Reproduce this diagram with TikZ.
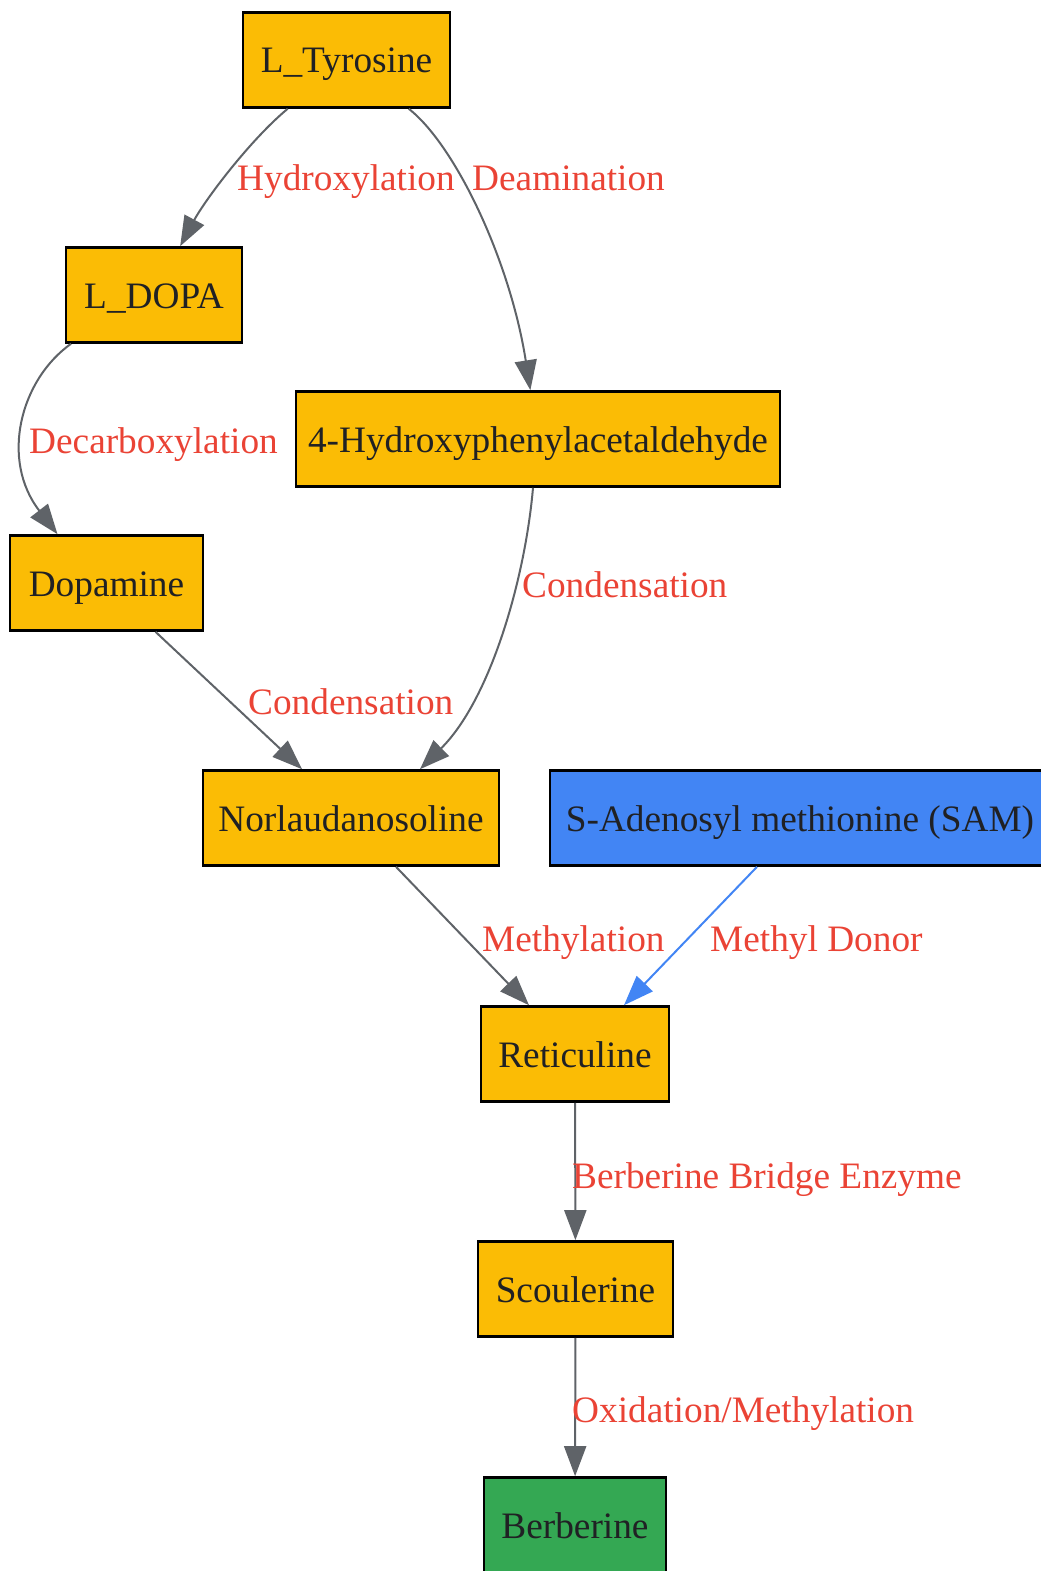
\documentclass[tikz,border=0pt]{standalone}
\usepackage{fontspec}
\setmainfont{Liberation Serif}
\usetikzlibrary{arrows.meta}

\definecolor{inktext}{HTML}{202124}
\definecolor{stepyellow}{HTML}{FBBC05}
\definecolor{donorblue}{HTML}{4285F4}
\definecolor{prodgreen}{HTML}{34A853}
\definecolor{edgegray}{HTML}{5F6368}
\definecolor{labelred}{HTML}{EA4335}

\tikzset{
  compound/.style={draw=black, line width=2.6pt, fill=stepyellow, text=inktext,
    inner xsep=8pt, minimum height=95pt, text height=34pt, text depth=8pt,
    font=\fontsize{37.3pt}{45pt}\selectfont},
  donor/.style={compound, fill=donorblue},
  product/.style={compound, fill=prodgreen},
  rxn/.style={draw=edgegray, line width=2pt, -{Triangle[length=30pt,width=22pt]}},
  rxnlabel/.style={text=labelred, anchor=base west, inner sep=0pt,
    font=\fontsize{37.3pt}{45pt}\selectfont}
}

\begin{document}
\begin{tikzpicture}[x=1pt, y=-1pt]
  \useasboundingbox (0,0) rectangle (1041,1571);

  % compounds
  \node[compound, minimum width=207pt] (tyr)  at (346.5,60) {L\_Tyrosine};
  \node[compound, minimum width=176pt] (dopa) at (154,295)  {L\_DOPA};
  \node[compound, minimum width=484pt] (hpaa) at (538,439)  {4-Hydroxyphenylacetaldehyde};
  \node[compound, minimum width=193pt] (dopamine) at (106.5,583) {Dopamine};
  \node[compound, minimum width=296pt] (norl) at (351,818)  {Norlaudanosoline};
  \node[donor, minimum width=500pt]    (sam)  at (800,818)  {S-Adenosyl methionine (SAM)};
  \node[compound, minimum width=188pt] (reti) at (575,1054) {Reticuline};
  \node[compound, minimum width=195pt] (scou) at (575.5,1289) {Scoulerine};
  \node[product, minimum width=182pt]  (berb) at (575,1525) {Berberine};

  % reactions
  \draw[rxn] (tyr) .. controls (250,140) and (205,200) .. (dopa);
  \draw[rxn] (tyr) .. controls (455,145) and (510,260) .. (hpaa);
  \draw[rxn] ([xshift=-83pt]dopa.south) .. controls (20,380) and (0,460) .. ([xshift=-49pt]dopamine.north);
  \draw[rxn] ([xshift=-5pt]hpaa.south) .. controls (525,580) and (490,700) .. ([xshift=69pt]norl.north);
  \draw[rxn] ([xshift=49pt]dopamine.south) -- ([xshift=-49pt]norl.north);
  \draw[rxn] ([xshift=45pt]norl.south) -- ([xshift=-46pt]reti.north);
  \draw[rxn, draw=donorblue] ([xshift=-43pt]sam.south) -- ([xshift=49pt]reti.north);
  \draw[rxn] (reti) -- (scou);
  \draw[rxn] (scou) -- (berb);

  % labels
  \node[rxnlabel] (lhydrox) at (237,190)  {Hydroxylation};
  \node[rxnlabel] (ldeam)   at (472,190)  {Deamination};
  \node[rxnlabel] (ldecarb) at (29,453)   {Decarboxylation};
  \node[rxnlabel] (lcondA)  at (522,597)  {Condensation};
  \node[rxnlabel] (lcondB)  at (248,714)  {Condensation};
  \node[rxnlabel] (lmeth)   at (482,951)  {Methylation};
  \node[rxnlabel] (ldonor)  at (710,951)  {Methyl Donor};
  \node[rxnlabel] (lbbe)    at (572,1188) {Berberine Bridge Enzyme};
  \node[rxnlabel] (loxid)   at (572,1422) {Oxidation/Methylation};
\end{tikzpicture}
\end{document}
